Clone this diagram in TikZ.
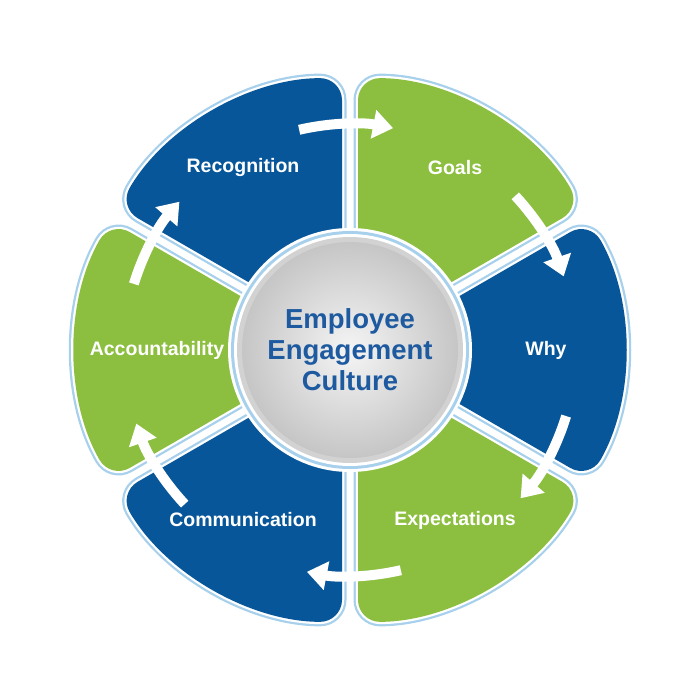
\documentclass[tikz,border=0pt]{standalone}
\usepackage{fontspec}
\setmainfont{Liberation Sans}
\usetikzlibrary{arrows.meta}
\definecolor{dblue}{HTML}{075699}
\definecolor{lgreen}{HTML}{8CBF3F}
\definecolor{lblue}{HTML}{A7D0EC}
\definecolor{tblue}{HTML}{1E5AA0}
\begin{document}
\begin{tikzpicture}[x=1pt,y=1pt,
  lbl/.style={text=white,font=\bfseries\fontsize{19.5}{22}\selectfont},
  arr/.style={white,line width=10pt,-{Triangle[length=20pt,width=28pt]}}]
\useasboundingbox[fill=white] (-350,-350) rectangle (350,350);
\newcommand\petal[2]{% #1 mid angle, #2 colour
  \begin{scope}[shift={(#1:16)}]
   \foreach \w/\c in {9/lblue,4.5/white}{
    \draw[\c,line width=\w pt,rounded corners=22pt] (0,0) -- (#1-30:258) arc[start angle=#1-30,end angle=#1+30,radius=258] -- cycle;}
   \fill[#2,rounded corners=22pt] (0,0) -- (#1-30:258) arc[start angle=#1-30,end angle=#1+30,radius=258] -- cycle;
  \end{scope}}
\petal{60}{lgreen}
\petal{0}{dblue}
\petal{-60}{lgreen}
\petal{-120}{dblue}
\petal{180}{lgreen}
\petal{120}{dblue}
\fill[white] (0,0) circle (122);
\fill[lblue] (0,0) circle (119);
\fill[white] (0,0) circle (116);
\fill[gray!35] (0,0) circle (113);
\shade[inner color=gray!8,outer color=gray!45] (0,0) circle (108);
\node[align=center,text=tblue,font=\bfseries\fontsize{27.5}{31}\selectfont] (c) at (0,0) {Employee\\Engagement\\Culture};
\node[lbl] (g) at (105,182) {Goals};
\node[lbl] (w) at (196,0) {Why};
\node[lbl] (e) at (105,-170) {Expectations};
\node[lbl] (m) at (-107,-170) {Communication};
\node[lbl] (a) at (-193,0) {Accountability};
\node[lbl] (r) at (-107,182) {Recognition};
\foreach \b in {90,30,-30,-90,-150,150}{
  \draw[arr] (\b+13:226) arc[start angle=\b+13,end angle=\b-11,radius=226];}
\end{tikzpicture}
\end{document}
